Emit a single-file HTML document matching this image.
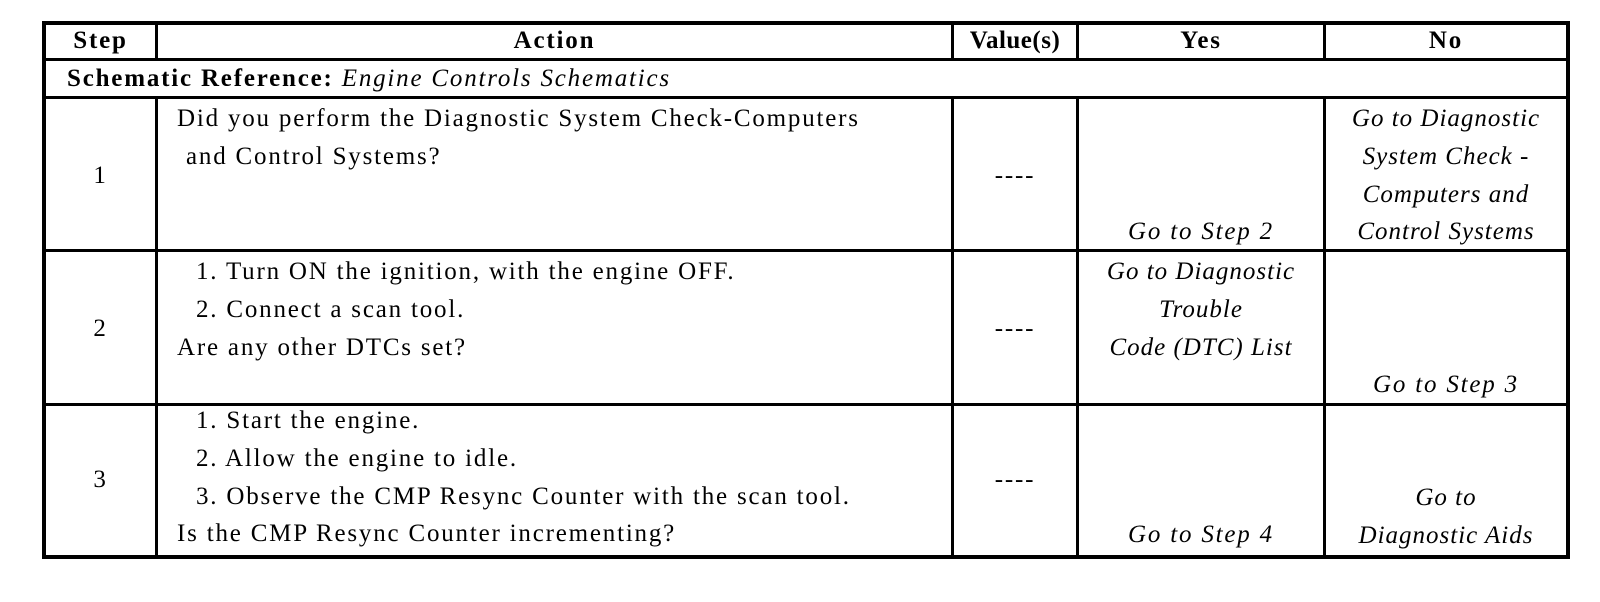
<!DOCTYPE html>
<html><head><style>
body{margin:0;width:1600px;height:602px;background:#fff;font-family:"Liberation Serif",serif;color:#000;position:relative;overflow:hidden}
.b{position:absolute;background:#000}
.t{position:absolute;font-size:25px;letter-spacing:1.8px;line-height:37.8px;white-space:pre}
.c{text-align:center}
i{font-style:italic}
</style></head><body>
<!-- outer -->
<div class="b" style="left:42px;top:21px;width:1528px;height:4px"></div>
<div class="b" style="left:42px;top:555px;width:1528px;height:4px"></div>
<div class="b" style="left:42px;top:21px;width:4px;height:538px"></div>
<div class="b" style="left:1566px;top:21px;width:4px;height:538px"></div>
<!-- rows -->
<div class="b" style="left:42px;top:58px;width:1528px;height:3px"></div>
<div class="b" style="left:42px;top:96px;width:1528px;height:3px"></div>
<div class="b" style="left:42px;top:249px;width:1528px;height:3px"></div>
<div class="b" style="left:42px;top:403px;width:1528px;height:3px"></div>
<!-- cols -->
<div class="b" style="left:155px;top:21px;width:3px;height:39px"></div>
<div class="b" style="left:951px;top:21px;width:3px;height:39px"></div>
<div class="b" style="left:1076px;top:21px;width:3px;height:39px"></div>
<div class="b" style="left:1323px;top:21px;width:3px;height:39px"></div>
<div class="b" style="left:155px;top:96px;width:3px;height:462px"></div>
<div class="b" style="left:951px;top:96px;width:3px;height:462px"></div>
<div class="b" style="left:1076px;top:96px;width:3px;height:462px"></div>
<div class="b" style="left:1323px;top:96px;width:3px;height:462px"></div>
<!-- header -->
<div class="t c" style="left:46px;width:109px;top:22px;font-weight:bold">Step</div>
<div class="t c" style="left:158px;width:793px;top:22px;font-weight:bold">Action</div>
<div class="t c" style="left:954px;width:122px;top:22px;font-weight:bold;letter-spacing:0.5px">Value(s)</div>
<div class="t c" style="left:1079px;width:244px;top:22px;font-weight:bold">Yes</div>
<div class="t c" style="left:1326px;width:240px;top:22px;font-weight:bold">No</div>
<div class="t" style="left:67px;top:60px"><b>Schematic Reference:</b> <i>Engine Controls Schematics</i></div>
<!-- row1 -->
<div class="t c" style="left:46px;width:109px;top:157px">1</div>
<div class="t" style="left:177px;top:100px">Did you perform the Diagnostic System Check-Computers</div>
<div class="t" style="left:186px;top:137.8px">and Control Systems?</div>
<div class="t c" style="left:954px;width:122px;top:157px">----</div>
<div class="t c" style="left:1079px;width:244px;top:213px"><i>Go to Step 2</i></div>
<div class="t c" style="left:1326px;width:240px;top:100px;letter-spacing:1px"><i>Go to Diagnostic
System Check -
Computers and
Control Systems</i></div>
<!-- row2 -->
<div class="t c" style="left:46px;width:109px;top:310px">2</div>
<div class="t" style="left:196px;top:253px">1. Turn ON the ignition, with the engine OFF.</div>
<div class="t" style="left:196px;top:290.8px">2. Connect a scan tool.</div>
<div class="t" style="left:177px;top:328.6px">Are any other DTCs set?</div>
<div class="t c" style="left:954px;width:122px;top:310px">----</div>
<div class="t c" style="left:1079px;width:244px;top:253px;letter-spacing:1px"><i>Go to Diagnostic
Trouble
Code (DTC) List</i></div>
<div class="t c" style="left:1326px;width:240px;top:366px"><i>Go to Step 3</i></div>
<!-- row3 -->
<div class="t c" style="left:46px;width:109px;top:461px">3</div>
<div class="t" style="left:196px;top:402px">1. Start the engine.</div>
<div class="t" style="left:196px;top:439.8px">2. Allow the engine to idle.</div>
<div class="t" style="left:196px;top:477.6px">3. Observe the CMP Resync Counter with the scan tool.</div>
<div class="t" style="left:177px;top:515.4px">Is the CMP Resync Counter incrementing?</div>
<div class="t c" style="left:954px;width:122px;top:461px">----</div>
<div class="t c" style="left:1079px;width:244px;top:516px"><i>Go to Step 4</i></div>
<div class="t c" style="left:1326px;width:240px;top:479px;letter-spacing:1px"><i>Go to
Diagnostic Aids</i></div>
</body></html>
